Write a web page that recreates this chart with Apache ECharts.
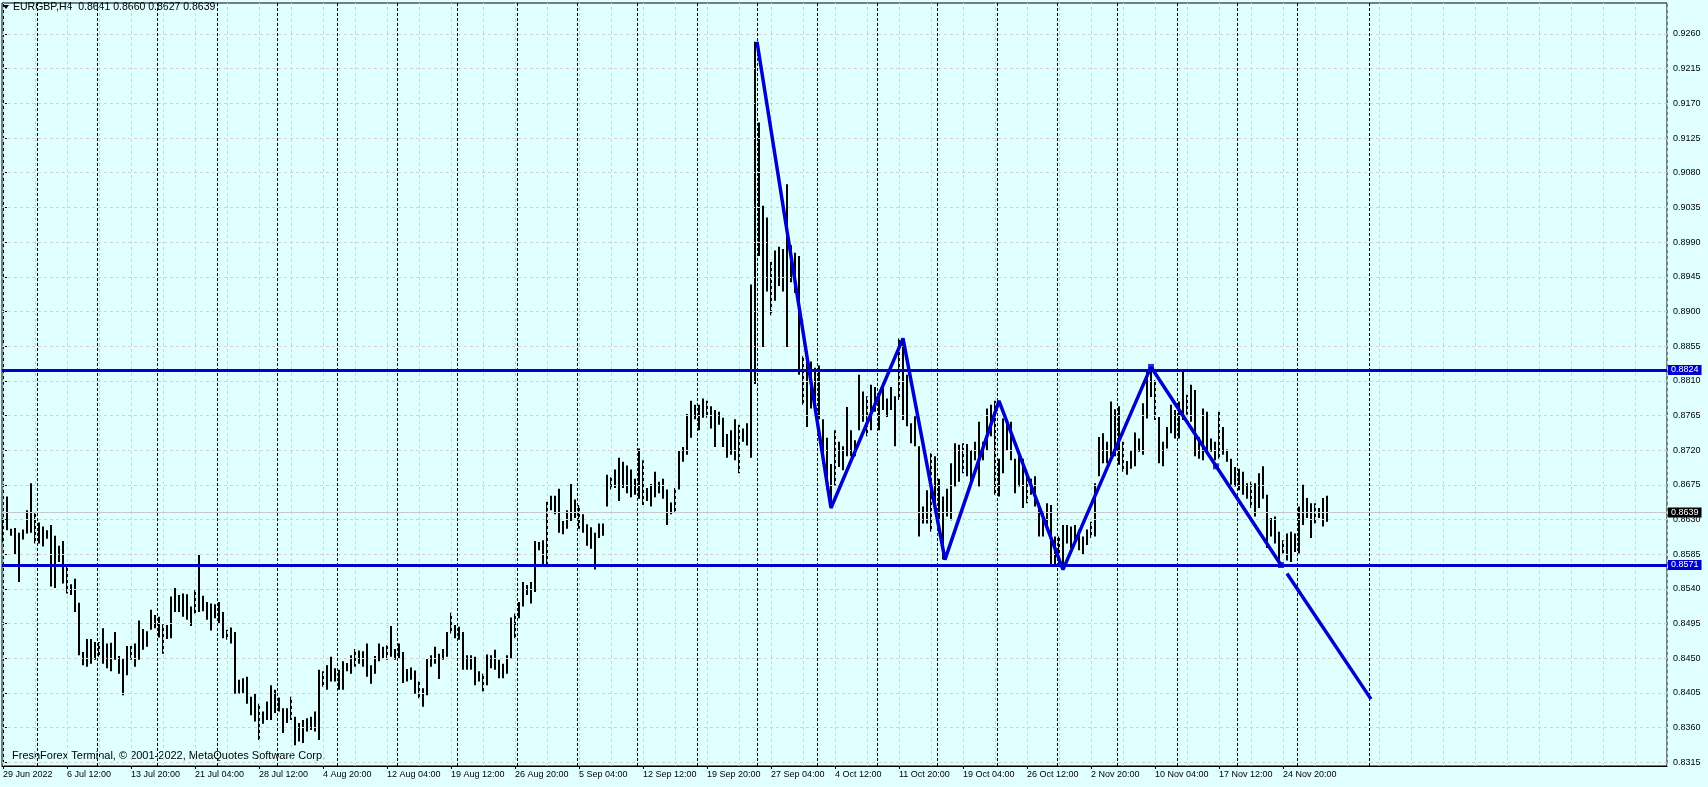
<!DOCTYPE html>
<html>
<head>
<meta charset="UTF-8">
<title>EURGBP,H4</title>
<script src="https://cdn.jsdelivr.net/npm/echarts@6/dist/echarts.min.js"></script>
<style>
  html, body { margin: 0; padding: 0; background: #e0ffff; }
  #chart { width: 1708px; height: 787px; }
</style>
</head>
<body>
<div id="chart"></div>
<script>
// right price scale
var priceTicks = [0.8315, 0.8360, 0.8405, 0.8450, 0.8495, 0.8540, 0.8585, 0.8630, 0.8675, 0.8720, 0.8765,
  0.8810, 0.8855, 0.8900, 0.8945, 0.8990, 0.9035, 0.9080, 0.9125, 0.9170, 0.9215, 0.9260];

// time scale, one label every 32 H4 bars
var timeLabels = ['29 Jun 2022', '6 Jul 12:00', '13 Jul 20:00', '21 Jul 04:00', '28 Jul 12:00', '4 Aug 20:00',
  '12 Aug 04:00', '19 Aug 12:00', '26 Aug 20:00', '5 Sep 04:00', '12 Sep 12:00', '19 Sep 20:00', '27 Sep 04:00',
  '4 Oct 12:00', '11 Oct 20:00', '19 Oct 04:00', '26 Oct 12:00', '2 Nov 20:00', '10 Nov 04:00', '17 Nov 12:00',
  '24 Nov 20:00'];
var labelStep = 32;

// weekly period separators (bar position)
var weekSeparators = [17.25, 47.25, 77.25, 107.25, 137.25, 167.25, 197.25, 227.25, 257.25, 287.25, 317.25,
  347.25, 377.25, 407.25, 437.25, 467.25, 497.25, 527.25, 557.25, 587.25, 617.25, 647.25, 683.2];

// high / low of every second H4 bar
var barStep = 2;
var highs = [
  0.8632,0.8660,0.8618,0.8619,0.8613,0.8617,0.8642,0.8677,0.8638,0.8626,
  0.8621,0.8616,0.8623,0.8609,0.8596,0.8602,0.8571,0.8546,0.8553,0.8522,
  0.8458,0.8475,0.8475,0.8471,0.8471,0.8489,0.8469,0.8470,0.8484,0.8453,
  0.8449,0.8466,0.8466,0.8469,0.8499,0.8488,0.8485,0.8513,0.8506,0.8504,
  0.8494,0.8493,0.8530,0.8541,0.8532,0.8534,0.8533,0.8517,0.8539,0.8584,
  0.8531,0.8523,0.8521,0.8520,0.8523,0.8510,0.8487,0.8490,0.8484,0.8422,
  0.8424,0.8426,0.8400,0.8404,0.8391,0.8381,0.8394,0.8415,0.8409,0.8399,
  0.8385,0.8385,0.8400,0.8374,0.8366,0.8370,0.8372,0.8374,0.8381,0.8435,
  0.8433,0.8441,0.8452,0.8437,0.8435,0.8446,0.8444,0.8454,0.8462,0.8460,
  0.8459,0.8469,0.8441,0.8453,0.8469,0.8465,0.8467,0.8492,0.8462,0.8469,
  0.8458,0.8436,0.8438,0.8434,0.8420,0.8411,0.8449,0.8454,0.8465,0.8456,
  0.8462,0.8484,0.8509,0.8493,0.8491,0.8484,0.8454,0.8454,0.8452,0.8433,
  0.8430,0.8455,0.8454,0.8461,0.8448,0.8443,0.8454,0.8503,0.8508,0.8523,
  0.8549,0.8545,0.8549,0.8602,0.8601,0.8603,0.8653,
  0.8661,0.8661,0.8670,0.8628,0.8642,0.8676,0.8656,0.8649,0.8637,0.8624,
  0.8620,0.8613,0.8625,0.8625,0.8688,0.8685,0.8695,0.8710,0.8705,0.8700,
  0.8695,0.8683,0.8722,0.8707,0.8671,0.8676,0.8692,0.8679,0.8683,0.8669,
  0.8652,0.8671,0.8719,0.8724,0.8767,0.8784,0.8779,0.8779,0.8787,0.8784,
  0.8777,0.8772,0.8770,0.8762,0.8741,0.8746,0.8760,0.8753,0.8748,0.8755,
  0.8935,0.9250,0.9145,0.9037,0.9022,0.8964,0.8979,0.8984,0.8981,0.9065,
  0.8986,0.8976,0.8972,0.8842,0.8844,0.8835,0.8827,0.8830,0.8760,0.8736,
  0.8702,0.8746,0.8731,
  0.8725,0.8776,0.8746,0.8733,0.8818,0.8796,0.8790,0.8805,0.8802,0.8794,
  0.8802,0.8787,0.8802,0.8790,0.8865,0.8863,0.8818,0.8755,0.8764,0.8725,
  0.8647,0.8668,0.8716,0.8712,0.8683,0.8660,0.8670,0.8703,0.8729,0.8727,
  0.8729,0.8728,0.8720,0.8731,0.8757,0.8731,0.8774,0.8779,0.8784,0.8709,
  0.8761,0.8757,0.8757,0.8709,0.8712,0.8709,0.8686,0.8683,0.8686,0.8651,
  0.8640,0.8651,0.8649,0.8608,0.8608,0.8623,0.8623,0.8621,0.8623,0.8617,
  0.8608,0.8617,0.8627,0.8677,0.8737,0.8742,0.8731,0.8783,
  0.8773,0.8777,0.8731,0.8706,0.8720,0.8743,0.8735,0.8781,0.8825,0.8827,
  0.8811,0.8763,0.8731,0.8750,0.8779,0.8772,0.8783,0.8822,0.8792,0.8805,
  0.8798,0.8737,0.8774,0.8770,0.8735,0.8731,0.8770,0.8750,0.8721,0.8709,
  0.8698,0.8696,0.8692,0.8677,0.8679,0.8677,0.8690,0.8699,0.8662,0.8632,
  0.8634,0.8614,0.8603,0.8612,0.8614,0.8612,0.8647,0.8675,0.8658,0.8651,
  0.8651,0.8645,0.8658,0.8661
];
var lows = [
  0.8601,0.8616,0.8609,0.8585,0.8549,0.8604,0.8612,0.8613,0.8599,0.8599,
  0.8595,0.8605,0.8543,0.8541,0.8575,0.8547,0.8534,0.8532,0.8510,0.8454,
  0.8441,0.8439,0.8443,0.8448,0.8452,0.8443,0.8437,0.8433,0.8448,0.8430,
  0.8402,0.8428,0.8448,0.8439,0.8448,0.8461,0.8465,0.8487,0.8489,0.8477,
  0.8456,0.8475,0.8476,0.8510,0.8510,0.8504,0.8500,0.8492,0.8508,0.8510,
  0.8511,0.8500,0.8486,0.8502,0.8495,0.8476,0.8474,0.8469,0.8404,0.8404,
  0.8404,0.8391,0.8376,0.8368,0.8344,0.8365,0.8370,0.8370,0.8379,0.8381,
  0.8353,0.8366,0.8370,0.8337,0.8342,0.8340,0.8355,0.8357,0.8355,0.8344,
  0.8413,0.8409,0.8420,0.8420,0.8409,0.8409,0.8433,0.8430,0.8439,0.8443,
  0.8439,0.8426,0.8417,0.8430,0.8446,0.8450,0.8448,0.8452,0.8448,0.8449,
  0.8418,0.8420,0.8422,0.8404,0.8398,0.8387,0.8402,0.8439,0.8443,0.8423,
  0.8448,0.8452,0.8482,0.8476,0.8474,0.8435,0.8435,0.8435,0.8415,0.8420,
  0.8407,0.8415,0.8437,0.8435,0.8424,0.8424,0.8430,0.8450,0.8476,0.8502,
  0.8517,0.8532,0.8521,0.8536,0.8590,0.8571,0.8571,
  0.8642,0.8637,0.8613,0.8611,0.8618,0.8628,0.8632,0.8618,0.8613,0.8596,
  0.8592,0.8565,0.8606,0.8609,0.8647,0.8669,0.8671,0.8654,0.8671,0.8664,
  0.8659,0.8662,0.8657,0.8649,0.8654,0.8647,0.8659,0.8664,0.8657,0.8623,
  0.8637,0.8640,0.8669,0.8705,0.8714,0.8736,0.8760,0.8746,0.8762,0.8762,
  0.8748,0.8724,0.8753,0.8724,0.8710,0.8714,0.8707,0.8690,0.8731,0.8726,
  0.8710,0.8806,0.8972,0.8854,0.8926,0.8895,0.8914,0.8933,0.8926,0.8854,
  0.8938,0.8924,0.8818,0.8779,0.8750,0.8774,0.8770,0.8760,0.8702,0.8669,
  0.8645,0.8674,0.8698,
  0.8694,0.8712,0.8712,0.8712,0.8746,0.8757,0.8738,0.8746,0.8770,0.8746,
  0.8772,0.8763,0.8772,0.8725,0.8785,0.8759,0.8751,0.8729,0.8725,0.8608,
  0.8625,0.8625,0.8614,0.8647,0.8629,0.8578,0.8634,0.8629,0.8673,0.8679,
  0.8690,0.8686,0.8677,0.8707,0.8673,0.8707,0.8720,0.8738,0.8662,0.8660,
  0.8690,0.8720,0.8707,0.8664,0.8673,0.8645,0.8651,0.8662,0.8647,0.8608,
  0.8608,0.8616,0.8571,0.8571,0.8569,0.8565,0.8599,0.8593,0.8599,0.8590,
  0.8584,0.8597,0.8606,0.8608,0.8686,0.8703,0.8703,0.8712,
  0.8712,0.8701,0.8692,0.8688,0.8696,0.8699,0.8718,0.8714,0.8761,0.8789,
  0.8759,0.8703,0.8699,0.8722,0.8742,0.8735,0.8735,0.8759,0.8766,0.8757,
  0.8712,0.8709,0.8707,0.8716,0.8718,0.8707,0.8709,0.8714,0.8705,0.8675,
  0.8673,0.8668,0.8662,0.8657,0.8645,0.8634,0.8645,0.8657,0.8593,0.8608,
  0.8599,0.8571,0.8586,0.8577,0.8575,0.8588,0.8586,0.8623,0.8632,0.8606,
  0.8625,0.8632,0.8621,0.8627
];

// hand drawn objects (bar position, price)
var zigzagBars   = [377, 414, 450, 471, 498, 530, 574, 639];
var zigzagPrices = [0.9250, 0.8645, 0.8865, 0.8578, 0.8784, 0.8565, 0.8828, 0.8571];
var trendBars    = [642, 684];
var trendPrices  = [0.8560, 0.8397];
var anchorBars   = [574, 606.5, 639];
var anchorPrices = [0.8828, 0.8699, 0.8571];
var levels = [0.8824, 0.8571];
var bid = 0.8639;

var FONT = 'Liberation Sans';
var BLUE = '#0000cd';

var bars = highs.map(function (h, k) { return [k * barStep, lows[k], h]; });
var labelBars = timeLabels.map(function (t, k) { return k * labelStep; });

var gridLines = [];
priceTicks.forEach(function (p) { gridLines.push({ yAxis: p }); });
for (var g = 0; g <= 832; g += 16) gridLines.push({ xAxis: g });

var chart = echarts.init(document.getElementById('chart'));
chart.setOption({
  animation: false,
  backgroundColor: '#e0ffff',
  textStyle: { fontFamily: FONT },
  grid: { left: 2, right: 41, top: 3, bottom: 21, show: true, borderColor: '#000', borderWidth: 1 },
  xAxis: {
    type: 'value', min: -0.5, max: 832,
    axisLine: { lineStyle: { color: '#000' } },
    splitLine: { show: false },
    axisTick: { customValues: labelBars, length: 3, lineStyle: { color: '#000' } },
    axisLabel: {
      customValues: labelBars, align: 'left', margin: 4, color: '#000', fontSize: 9, fontFamily: FONT,
      formatter: function (v) { return timeLabels[Math.round(v / labelStep)]; }
    }
  },
  yAxis: {
    type: 'value', position: 'right', min: 0.83102, max: 0.93002, scale: true,
    axisLine: { show: true, lineStyle: { color: '#000' } },
    splitLine: { show: false },
    axisTick: { show: true, customValues: priceTicks, length: 4, lineStyle: { color: '#000' } },
    axisLabel: {
      customValues: priceTicks, margin: 6, color: '#000', fontSize: 9, fontFamily: FONT,
      formatter: function (v) { return v.toFixed(4); }
    }
  },
  graphic: [
    { type: 'polygon', shape: { points: [[3, 5], [9, 5], [6, 9]] }, style: { fill: '#000' } },
    { type: 'text', left: 13, top: 2, style: { text: 'EURGBP,H4  0.8641 0.8660 0.8627 0.8639', font: '10.5px "Liberation Sans"', fill: '#000' } },
    { type: 'text', left: 12, top: 750, style: { text: 'FreshForex Terminal, \u00a9 2001-2022, MetaQuotes Software Corp.', font: '11px "Liberation Sans"', fill: '#000' } }
  ],
  series: [
    {
      name: 'grid', type: 'line', data: [], silent: true, z: 1,
      markLine: {
        silent: true, precision: 4, symbol: ['none', 'none'], label: { show: false },
        lineStyle: { color: '#d6d0d0', width: 1, type: [3, 3] },
        data: gridLines
      }
    },
    {
      name: 'separators', type: 'line', data: [], silent: true, z: 1,
      markLine: {
        silent: true, precision: 4, symbol: ['none', 'none'], label: { show: false },
        lineStyle: { color: '#000', width: 1, type: [3, 2] },
        data: weekSeparators.map(function (b) { return { xAxis: b }; })
      }
    },
    {
      name: 'bid', type: 'line', data: [], silent: true, z: 2,
      markLine: {
        silent: true, precision: 4, symbol: ['none', 'none'],
        lineStyle: { color: '#c8c8c8', width: 1, type: 'solid' },
        label: {
          show: true, position: 'end', distance: 1, color: '#fff', backgroundColor: '#000',
          fontSize: 9, fontFamily: FONT, padding: [1, 3, 0, 3],
          formatter: function (p) { return p.value.toFixed(4); }
        },
        data: [{ yAxis: bid }]
      }
    },
    {
      name: 'EURGBP', type: 'custom', z: 3, silent: true,
      encode: { x: 0, y: [1, 2] },
      data: bars,
      renderItem: function (params, api) {
        var top = api.coord([api.value(0), api.value(2)]);
        var bot = api.coord([api.value(0), api.value(1)]);
        return {
          type: 'rect',
          shape: { x: top[0] - 1, y: top[1], width: 2, height: Math.max(bot[1] - top[1], 1) },
          style: { fill: '#000' }
        };
      }
    },
    {
      name: 'levels', type: 'line', data: [], silent: true, z: 4,
      markLine: {
        silent: true, precision: 4, symbol: ['none', 'none'],
        lineStyle: { color: BLUE, width: 3, type: 'solid' },
        label: {
          show: true, position: 'end', distance: 1, color: '#fff', backgroundColor: BLUE,
          fontSize: 9, fontFamily: FONT, padding: [1, 3, 0, 3],
          formatter: function (p) { return p.value.toFixed(4); }
        },
        data: levels.map(function (v) { return { yAxis: v }; })
      }
    },
    {
      name: 'zigzag', type: 'line', z: 5, silent: true, symbol: 'none',
      lineStyle: { color: BLUE, width: 3.5 },
      data: zigzagBars.map(function (b, i) { return [b, zigzagPrices[i]]; })
    },
    {
      name: 'trend', type: 'line', z: 5, silent: true, symbol: 'none',
      lineStyle: { color: BLUE, width: 3.5 },
      data: trendBars.map(function (b, i) { return [b, trendPrices[i]]; })
    },
    {
      name: 'anchors', type: 'scatter', z: 6, silent: true, symbol: 'rect', symbolSize: 6,
      itemStyle: { color: BLUE },
      data: anchorBars.map(function (b, i) { return [b, anchorPrices[i]]; })
    }
  ]
});
</script>
</body>
</html>
